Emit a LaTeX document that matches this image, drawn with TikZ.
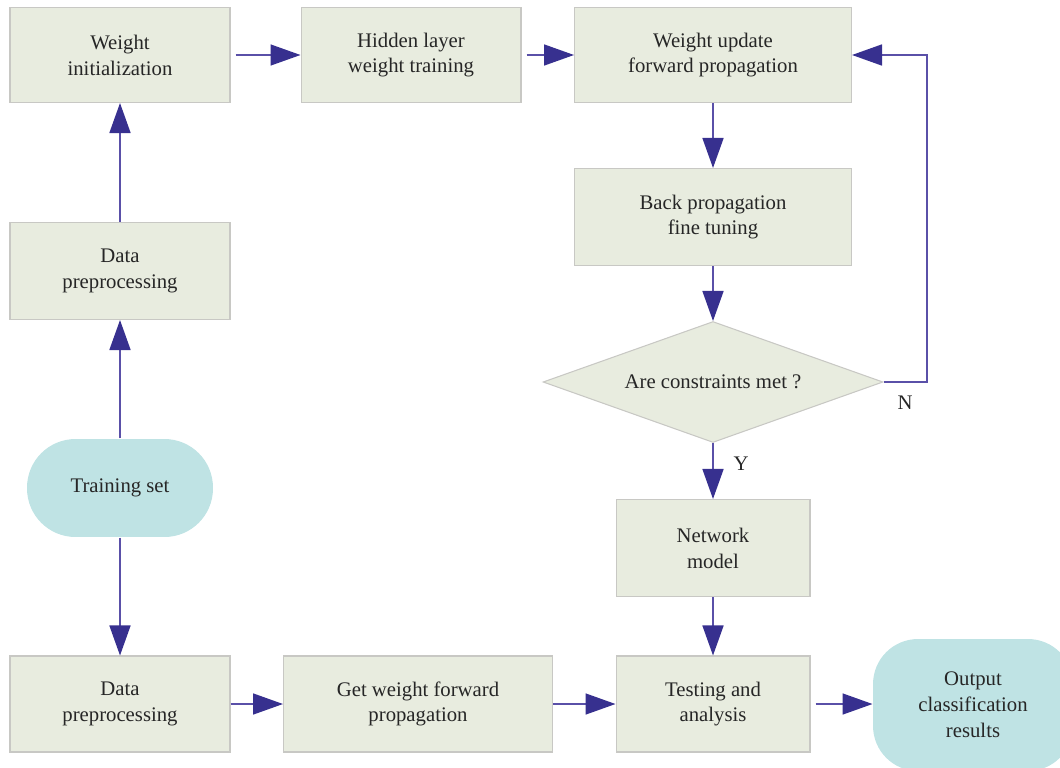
\documentclass[tikz,border=0pt]{standalone}
\usepackage{fontspec}
\setmainfont{Liberation Serif}
\usepackage{tikz}
\usetikzlibrary{shapes.geometric, arrows.meta}
\definecolor{boxfill}{HTML}{E8ECDF}
\definecolor{boxline}{HTML}{C8C8C4}
\definecolor{termfill}{HTML}{BFE3E4}
\definecolor{arrowline}{HTML}{5A50A8}
\definecolor{arrowtip}{HTML}{37308F}
\tikzstyle{box} = [rectangle, align=center, inner sep=0pt, fill=boxfill, draw=boxline, line width=0.6pt, text=black!85, font=\fontsize{11.8}{14.7}\selectfont]
\tikzstyle{term} = [box, fill=termfill, draw=none]
\tikzstyle{decision} = [diamond, aspect=2.8, align=center, inner sep=0pt, fill=boxfill, draw=boxline, line width=0.6pt, text=black!85, font=\fontsize{11.8}{14.7}\selectfont, minimum width=6.8cm, minimum height=2.42cm]
\tikzstyle{arrow} = [draw=arrowline, line width=0.9pt, -{Triangle[length=0.6cm, width=0.42cm, fill=arrowtip, color=arrowtip]}]

\begin{document}
\begin{tikzpicture}[x=0.02cm, y=-0.02cm]

    \useasboundingbox (0, 0) rectangle (1060, 767);

    % top row
    \node (init) [box, minimum width=4.4cm, minimum height=1.9cm] at (120, 55) {Weight\\initialization};
    \node (hidden) [box, minimum width=4.4cm, minimum height=1.9cm] at (411, 55) {Hidden layer\\weight training};
    \node (update) [box, minimum width=5.54cm, minimum height=1.9cm] at (713, 55) {Weight update\\forward propagation};

    % right column
    \node (backprop) [box, minimum width=5.54cm, minimum height=1.94cm] at (713, 217) {Back propagation\\fine tuning};
    \node (check) [decision] at (713, 382) {Are constraints met ?};
    \node (model) [box, minimum width=3.88cm, minimum height=1.94cm] at (713, 548) {Network\\model};
    \node (test) [box, minimum width=3.88cm, minimum height=1.92cm] at (713, 704) {Testing and\\analysis};
    \node (output) [term, rounded corners=0.9cm, minimum width=4.0cm, minimum height=2.64cm] at (973, 705) {Output\\classification\\results};

    % left column
    \node (prepA) [box, minimum width=4.4cm, minimum height=1.94cm] at (120, 271) {Data\\preprocessing};
    \node (train) [term, rounded corners=0.97cm, minimum width=3.72cm, minimum height=1.96cm] at (120, 488) {Training set};
    \node (prepB) [box, minimum width=4.4cm, minimum height=1.92cm] at (120, 704) {Data\\preprocessing};
    \node (getw) [box, minimum width=5.38cm, minimum height=1.92cm] at (418, 704) {Get weight forward\\propagation};

    \coordinate (loopA) at (927, 382);
    \coordinate (loopB) at (927, 55);

    \draw [arrow] (train) -- (prepA);
    \draw [arrow] (prepA) -- (init);
    \draw [arrow, shorten <=0.1cm] (init) -- (hidden);
    \draw [arrow, shorten <=0.1cm] (hidden) -- (update);
    \draw [arrow] (update) -- (backprop);
    \draw [arrow] (backprop) -- (check);
    \draw [arrow] (check) -- (model);
    \draw [arrow] (model) -- (test);
    \draw [arrow] (check.east) -- (loopA) -- (loopB) -- (update.east);
    \draw [arrow] (train) -- (prepB);
    \draw [arrow] (prepB) -- (getw);
    \draw [arrow] (getw) -- (test);
    \draw [arrow, shorten <=0.1cm] (test.east) -- (test.east -| output.west);

    \node (yes) [text=black!85, font=\fontsize{11.8}{14.7}\selectfont] at (741, 464) {Y};
    \node (no) [text=black!85, font=\fontsize{11.8}{14.7}\selectfont] at (905, 403) {N};

\end{tikzpicture}
\end{document}
